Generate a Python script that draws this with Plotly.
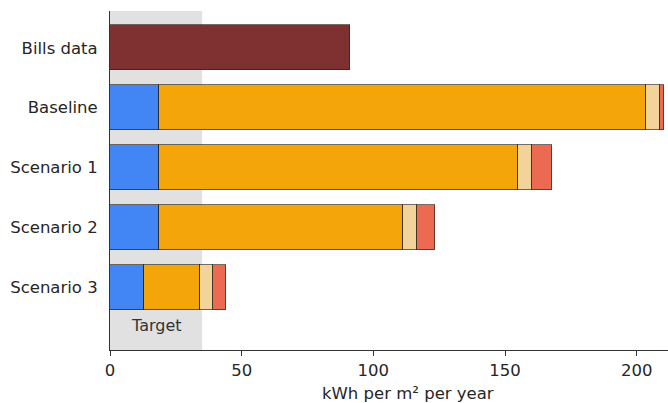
import plotly.graph_objects as go

# Energy use intensity by scenario (kWh per m² per year)
categories = ["Bills data", "Baseline", "Scenario 1", "Scenario 2", "Scenario 3"]
bills_value = 91.2

scenario_labels = ["Baseline", "Scenario 1", "Scenario 2", "Scenario 3"]
part_a = [18.6, 18.6, 18.7, 13.0]
part_b = [184.8, 136.5, 92.5, 21.3]
part_c = [5.4, 5.3, 5.3, 4.8]
part_d = [1.7, 7.5, 7.1, 5.0]

target_value = 35
target_label = "Target"
x_ticks = [0, 50, 100, 150, 200]
x_title = "kWh per m² per year"

segment_colors = ["#4285f4", "#f4a50a", "#f2d49b", "#ec6a52"]
bills_color = "#7f3030"
edge = dict(color="rgba(40,30,20,0.65)", width=1)
font_family = "DejaVu Sans"
text_color = "#262626"
font_size = 16.5

pos = {c: i for i, c in enumerate(categories)}
scen_pos = [pos[s] for s in scenario_labels]

fig = go.Figure()

fig.add_trace(go.Bar(
    y=[pos["Bills data"]], x=[bills_value], orientation="h", width=0.75,
    marker=dict(color=bills_color, line=edge), name="Bills data",
))
for vals, col, nm in zip([part_a, part_b, part_c, part_d], segment_colors,
                         ["Part A", "Part B", "Part C", "Part D"]):
    fig.add_trace(go.Bar(
        y=scen_pos, x=vals, orientation="h", width=0.75,
        marker=dict(color=col, line=edge), name=nm,
    ))

# Target band behind the bars
fig.add_shape(type="rect", xref="x", yref="paper", x0=0, x1=target_value, y0=0, y1=1,
              fillcolor="#e1e1e1", line=dict(width=0), layer="below")
fig.add_annotation(x=target_value / 2, y=4.63, xref="x", yref="y", text=target_label,
                   showarrow=False, font=dict(family=font_family, size=16, color="#333333"))

# Axis title
fig.add_annotation(x=113, y=-0.094, xref="x", yref="paper", text=x_title, showarrow=False,
                   yanchor="top", font=dict(family=font_family, size=font_size, color=text_color))

fig.update_layout(
    width=668, height=403,
    margin=dict(l=110, r=0, t=11, b=53),
    barmode="stack", showlegend=False,
    plot_bgcolor="white", paper_bgcolor="white",
    font=dict(family=font_family, size=font_size, color=text_color),
    bargap=0,
)
fig.update_xaxes(
    range=[0, 211.9], tickvals=x_ticks, ticks="outside", ticklen=5, tickwidth=1,
    tickcolor="#333333", showline=True, linecolor="#333333", linewidth=1,
    showgrid=False, zeroline=False, tickfont=dict(size=font_size),
)
fig.update_yaxes(
    range=[5.047, -0.613], tickvals=list(range(len(categories))), ticktext=categories,
    showline=True, linecolor="#333333", linewidth=1, showgrid=False, zeroline=False,
    ticks="", ticklabelstandoff=8, tickfont=dict(size=font_size),
)

fig.write_html("out.html")
